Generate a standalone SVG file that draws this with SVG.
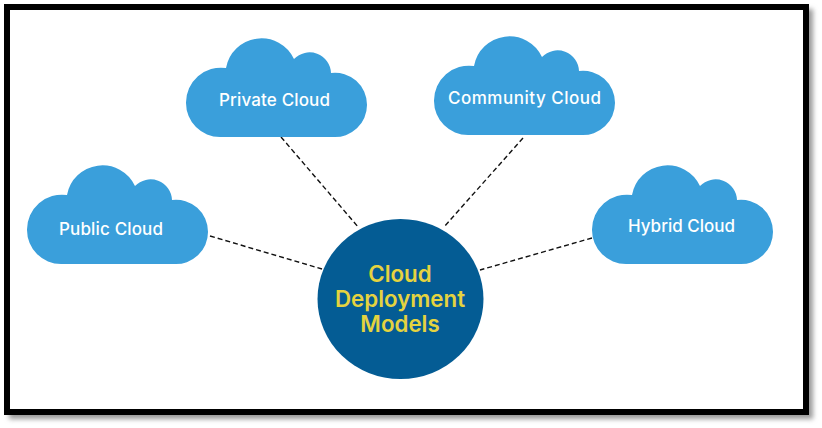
<svg xmlns="http://www.w3.org/2000/svg" width="822" height="428" viewBox="0 0 822 428">
<style>
.c{fill:#3a9fdb}
.l{font-family:Inter,"Liberation Sans",sans-serif;font-size:17px;font-weight:500;fill:#fff;text-anchor:middle}
.m{font-family:Inter,"Liberation Sans",sans-serif;font-size:22.300px;font-weight:600;fill:#e5d33f;text-anchor:middle}
.d{stroke:#111;stroke-width:1.4;stroke-dasharray:5 3;fill:none}
</style>
<defs>
<filter id="b" x="-5%" y="-5%" width="110%" height="110%"><feGaussianBlur stdDeviation="2.5"/></filter>
<path id="cl" d="M34 99A34 34 0 0 1 0 65A35 35 0 0 1 40 30A36 36 0 0 1 108 21A21.500 21.500 0 0 1 145 35A32 32 0 0 1 181 67A32 32 0 0 1 147 99Z"/>
</defs>
<rect width="822" height="428" fill="#fff"/>
<rect x="9" y="9" width="804" height="410" fill="#9a9a9a" filter="url(#b)"/>
<g id="frame"><rect x="7" y="7" width="799" height="405" fill="#fff" stroke="#000" stroke-width="6"/></g>
<g id="connectors">
<line class="d" x1="210" y1="236" x2="322" y2="269"/>
<line class="d" x1="281" y1="137" x2="359" y2="228"/>
<line class="d" x1="523" y1="138" x2="444" y2="227"/>
<line class="d" x1="592" y1="238" x2="480" y2="270"/>
</g>
<g id="public"><use href="#cl" class="c" x="27" y="165"/><text class="l" x="111" y="235" textLength="104">Public Cloud</text></g>
<g id="private"><use href="#cl" class="c" x="186" y="38"/><text class="l" x="274.500" y="106" textLength="111">Private Cloud</text></g>
<g id="community"><use href="#cl" class="c" x="434" y="36"/><text class="l" x="524.500" y="104" textLength="153">Community Cloud</text></g>
<g id="hybrid"><use href="#cl" class="c" x="592" y="165"/><text class="l" x="681.500" y="232" textLength="107">Hybrid Cloud</text></g>
<g id="center"><ellipse cx="400.500" cy="299" rx="83" ry="80" fill="#045c94"/>
<text class="m" x="400" y="282">Cloud</text>
<text class="m" x="400" y="307">Deployment</text>
<text class="m" x="400" y="332">Models</text></g>
</svg>
